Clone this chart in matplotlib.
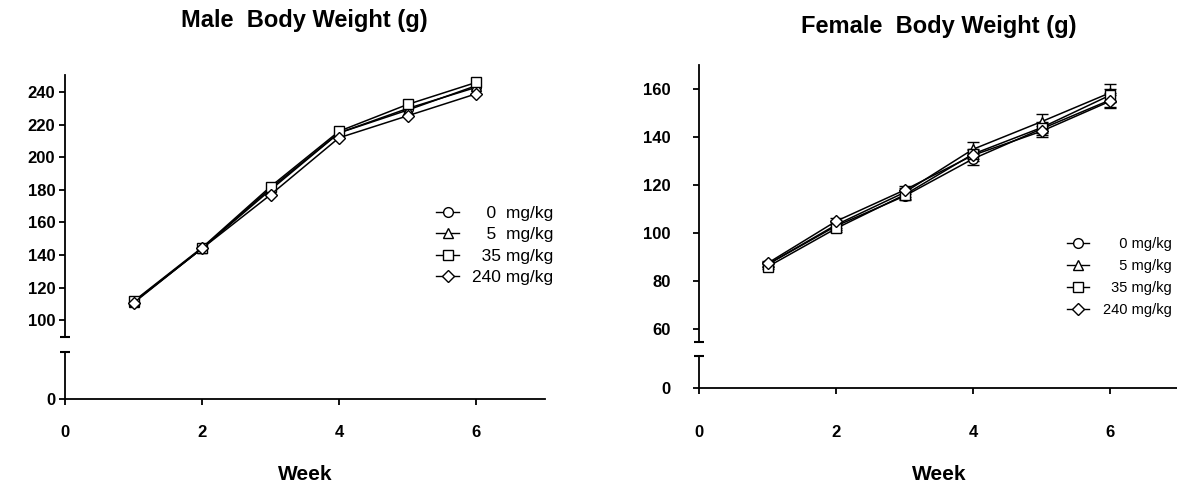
import numpy as np
import matplotlib
matplotlib.use("Agg")
import matplotlib.pyplot as plt
from matplotlib.lines import Line2D

plt.rcParams['font.family'] = ['Liberation Sans', 'DejaVu Sans']

weeks = [1, 2, 3, 4, 5, 6]
doses = ["0 mg/kg", "5 mg/kg", "35 mg/kg", "240 mg/kg"]
markers = ['o', '^', 's', 'D']

# male body weight (g)
male_0 = [111, 144, 181, 215, 230, 243]
male_5 = [111, 144, 180, 215, 229, 244]
male_35 = [111.5, 144.5, 182, 216, 232.5, 246]
male_240 = [110.5, 144, 177, 212, 225.5, 239]

# female body weight (g) and error
fem_0 = [87, 103, 115.5, 131, 143.5, 155.5]
fem_5 = [87, 103.5, 117, 135, 146.5, 158.5]
fem_35 = [86, 102, 116, 133, 144, 157.5]
fem_240 = [87.5, 105, 118, 132.5, 142.5, 155]
fem_err_0 = [1.2, 1.5, 1.8, 2.5, 2.5, 3.0]
fem_err_5 = [1.2, 1.5, 1.8, 3.0, 3.2, 3.8]
fem_err_35 = [1.0, 1.3, 1.6, 2.2, 2.3, 2.8]
fem_err_240 = [1.0, 1.3, 1.6, 2.2, 2.2, 2.8]

male_labels = ["\u2007 0  mg/kg", "\u2007 5  mg/kg", "\u200735 mg/kg", "240 mg/kg"]
fem_labels = ["\u2007\u20070 mg/kg", "\u2007\u20075 mg/kg", "\u200735 mg/kg", "240 mg/kg"]

W, H = 1177, 491
fig = plt.figure(figsize=(W / 100, H / 100), dpi=100)


def rect(x0, x1, ytop, ybot):
    return [x0 / W, 1 - ybot / H, (x1 - x0) / W, (ybot - ytop) / H]


def make_panel(x0, x1, up, low, ylim, yticks, ypad, xpad):
    axu = fig.add_axes(rect(x0, x1, up[0], up[1]))
    axl = fig.add_axes(rect(x0, x1, low[0], low[1]))
    for ax in (axu, axl):
        ax.set_xlim(0, 7)
        for s in ('top', 'right'):
            ax.spines[s].set_visible(False)
        ax.spines['left'].set_linewidth(1.3)
        ax.spines['bottom'].set_linewidth(1.3)
        ax.tick_params(direction='out', length=4.5, width=1.3, labelsize=12, pad=ypad)
    axu.spines['bottom'].set_visible(False)
    axu.set_xticks([])
    axu.set_ylim(*ylim)
    axu.set_yticks(yticks)
    axu.set_yticklabels([str(v) for v in yticks], fontweight='bold')
    axl.set_ylim(0, 1)
    axl.set_yticks([0])
    axl.set_yticklabels(['0'], fontweight='bold')
    axl.set_xticks([0, 2, 4, 6])
    axl.set_xticklabels(['0', '2', '4', '6'], fontweight='bold')
    axl.tick_params(axis='x', pad=xpad)
    # break caps on the y axis
    axu.plot([0], [ylim[0]], marker='_', ms=7, mew=1.5, color='k', clip_on=False)
    axl.plot([0], [1], marker='_', ms=7, mew=1.5, color='k', clip_on=False)
    return axu, axl


def handles(labels):
    return [Line2D([], [], color='k', lw=1.0, marker=mk, ms=7 if mk != 'D' else 6,
                   mfc='white', mec='k', mew=1.0, label=lab)
            for mk, lab in zip(markers, labels)]


# left: male
axm, axm_low = make_panel(65, 544.5, (75, 337), (352, 399), (89.6, 250.6),
                          [100, 120, 140, 160, 180, 200, 220, 240], 2.5, 14)
for ys, mk in zip([male_0, male_5, male_35, male_240], markers):
    axm.plot(weeks, ys, color='k', lw=1.1, marker=mk, ms=7 if mk != 'D' else 6,
             mfc='white', mec='k', mew=1.0, clip_on=False)
axm.legend(handles=handles(male_labels), loc='center right',
           bbox_to_anchor=(553 / W, 1 - 245.5 / H),
           bbox_transform=fig.transFigure, frameon=False, fontsize=12.5,
           borderpad=0, borderaxespad=0, handlelength=1.35, handletextpad=0.7,
           labelspacing=0.35)

# right: female
axf, axf_low = make_panel(699, 1178.5, (65, 342), (356, 388), (54.7, 170.1),
                          [60, 80, 100, 120, 140, 160], 16, 22)
for ys, es, mk in zip([fem_0, fem_5, fem_35, fem_240],
                      [fem_err_0, fem_err_5, fem_err_35, fem_err_240], markers):
    axf.errorbar(weeks, ys, yerr=es, color='k', lw=1.1, elinewidth=1.0, capsize=4.5,
                 capthick=1.2, marker=mk, ms=7 if mk != 'D' else 6,
                 mfc='white', mec='k', mew=1.0, clip_on=False)
axf.legend(handles=handles(fem_labels), loc='center right',
           bbox_to_anchor=(1172 / W, 1 - 277 / H),
           bbox_transform=fig.transFigure, frameon=False, fontsize=10.5,
           borderpad=0, borderaxespad=0, handlelength=1.45, handletextpad=1.0,
           labelspacing=0.55)

# titles and axis labels
fig.text((65 + 544.5) / 2 / W, 1 - 21 / H, "Male  Body Weight (g)", ha='center',
         va='center', fontsize=17, fontweight='bold')
fig.text((699 + 1178.5) / 2 / W, 1 - 27 / H, "Female  Body Weight (g)", ha='center',
         va='center', fontsize=17, fontweight='bold')
fig.text((65 + 544.5) / 2 / W, 1 - 474 / H, "Week", ha='center', va='center',
         fontsize=15, fontweight='bold')
fig.text((699 + 1178.5) / 2 / W, 1 - 474 / H, "Week", ha='center', va='center',
         fontsize=15, fontweight='bold')

fig.savefig("out.png", dpi=100)
